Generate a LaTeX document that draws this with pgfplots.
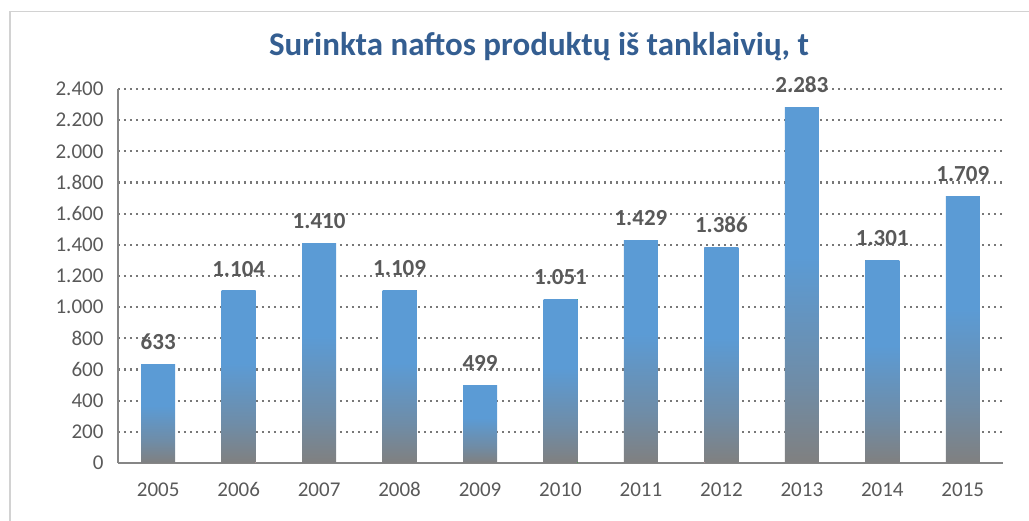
\documentclass[border=0pt]{standalone}
\usepackage{pgfplots}
\pgfplotsset{compat=1.18}
\usepackage{fontspec}
\setmainfont{Carlito}
\definecolor{barblue}{RGB}{91,155,213}
\definecolor{bargray}{RGB}{128,128,128}
\definecolor{titleblue}{RGB}{52,94,145}
\definecolor{txtgray}{RGB}{89,89,89}
\definecolor{axgray}{RGB}{134,134,134}
\definecolor{gridgray}{RGB}{120,120,120}
\definecolor{framegray}{RGB}{210,210,210}
\pgfdeclareverticalshading{barshade}{100bp}{color(0bp)=(bargray); color(25bp)=(bargray); color(36bp)=(bargray!55!barblue); color(54bp)=(barblue); color(100bp)=(barblue)}
\begin{document}
\begin{tikzpicture}
\useasboundingbox (-118pt,-58pt) rectangle (911pt,463pt);
\draw[framegray, line width=1.2pt] (-108pt,-58pt) -- (-108pt,451.5pt) -- (911pt,451.5pt);
\begin{axis}[
  at={(0pt,0pt)}, anchor=south west,
  scale only axis, width=885pt, height=374pt,
  ymin=0, ymax=2400, ytick distance=200,
  xmin=-0.5, xmax=10.5,
  xtick={0,...,10},
  xticklabels={2005,2006,2007,2008,2009,2010,2011,2012,2013,2014,2015},
  axis x line*=bottom, axis y line*=left,
  axis line style={axgray, line width=1.5pt, -},
  major tick length=0pt,
  ymajorgrids, grid style={gridgray, line width=2.1pt, dash pattern=on 2.1pt off 3.9pt},
  /pgf/number format/assume math mode=true,
  /pgf/number format/1000 sep={.},
  ticklabel style={font=\fontsize{21}{25}\selectfont, text=txtgray},
  yticklabel style={xshift=-11pt},
  xticklabel style={anchor=base, yshift=-34pt},
  ybar, bar width=34pt, bar shift=0pt,
  every axis plot/.append style={draw=none, shade, shading=barshade},
  nodes near coords,
  every node near coord/.append style={font=\bfseries\fontsize{23}{27}\selectfont, text=txtgray, yshift=11pt},
]
\addplot coordinates {(0,633)};
\addplot coordinates {(1,1104)};
\addplot coordinates {(2,1410)};
\addplot coordinates {(3,1109)};
\addplot coordinates {(4,499)};
\addplot coordinates {(5,1051)};
\addplot coordinates {(6,1429)};
\addplot coordinates {(7,1386)};
\addplot coordinates {(8,2283)};
\addplot coordinates {(9,1301)};
\addplot coordinates {(10,1709)};
\end{axis}
\node[font=\bfseries\fontsize{33}{40}\selectfont, text=titleblue] at (421pt,416pt) {Surinkta naftos produktų iš tanklaivių, t};
\end{tikzpicture}
\end{document}
